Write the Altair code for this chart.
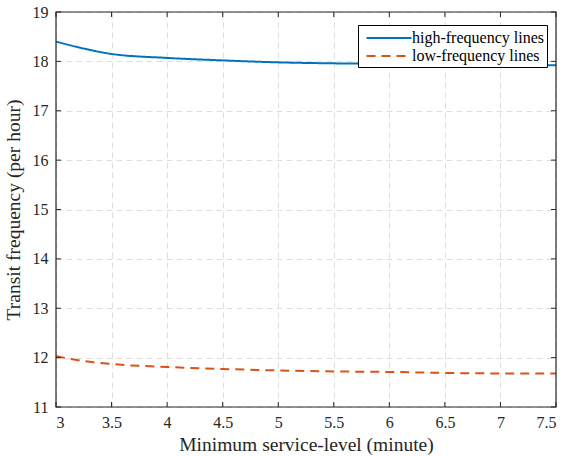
import altair as alt
import pandas as pd

# Minimum service level (minutes) and resulting frequencies (vehicles per hour)
service_level = [3, 3.25, 3.5, 4, 4.5, 5, 5.5, 6, 6.5, 7, 7.5]
high_freq = [18.40, 18.26, 18.15, 18.07, 18.02, 17.98, 17.96, 17.95, 17.94, 17.93, 17.92]
low_freq = [12.03, 11.93, 11.87, 11.81, 11.77, 11.74, 11.72, 11.71, 11.69, 11.68, 11.68]
series_names = ["high-frequency lines", "low-frequency lines"]
x_ticks = [3, 3.5, 4, 4.5, 5, 5.5, 6, 6.5, 7, 7.5]
y_ticks = [11, 12, 13, 14, 15, 16, 17, 18, 19]

W, H = 500, 395
FONT = "Liberation Serif"
INK = "#262626"

df = pd.concat([
    pd.DataFrame({"x": service_level, "y": high_freq, "series": series_names[0]}),
    pd.DataFrame({"x": service_level, "y": low_freq, "series": series_names[1]}),
])

xs = alt.Scale(domain=[3, 7.5], nice=False, zero=False)
ys = alt.Scale(domain=[11, 19], nice=False, zero=False)

x_axis = alt.Axis(values=x_ticks, format="~g", title="Minimum service-level (minute)",
                  ticks=False, domain=False, labelPadding=7, titlePadding=5,
                  gridDash=[6, 4], gridColor="#dedede", gridWidth=1)
y_axis = alt.Axis(values=y_ticks, format="~g", title="Transit frequency (per hour)",
                  ticks=False, domain=False, labelPadding=8, titlePadding=9,
                  gridDash=[6, 4], gridColor="#dedede", gridWidth=1)

lines = alt.Chart(df).mark_line(strokeWidth=2, interpolate="monotone").encode(
    x=alt.X("x:Q", scale=xs, axis=x_axis),
    y=alt.Y("y:Q", scale=ys, axis=y_axis),
    color=alt.Color("series:N", title=None,
                    scale=alt.Scale(domain=series_names, range=["#0072BD", "#D95319"])),
    strokeDash=alt.StrokeDash("series:N", title=None,
                              scale=alt.Scale(domain=series_names, range=[[1, 0], [9, 6]])),
)

xt = pd.DataFrame({"x": x_ticks})
yt = pd.DataFrame({"y": y_ticks})
tick_style = dict(color=INK, strokeWidth=1)
bottom = alt.Chart(xt).mark_rule(**tick_style).encode(
    x=alt.X("x:Q", scale=xs), y=alt.value(H), y2=alt.value(H - 5))
top = alt.Chart(xt).mark_rule(**tick_style).encode(
    x=alt.X("x:Q", scale=xs), y=alt.value(0), y2=alt.value(5))
left = alt.Chart(yt).mark_rule(**tick_style).encode(
    y=alt.Y("y:Q", scale=ys), x=alt.value(0), x2=alt.value(5))
right = alt.Chart(yt).mark_rule(**tick_style).encode(
    y=alt.Y("y:Q", scale=ys), x=alt.value(W), x2=alt.value(W - 5))

# Plot frame drawn above the grid so the border stays solid
frame = alt.Chart(pd.DataFrame({"k": [0]})).mark_rect(
    fill=None, stroke=INK, strokeWidth=1.2
).encode(x=alt.value(0), x2=alt.value(W), y=alt.value(0), y2=alt.value(H))

chart = alt.layer(lines, bottom, top, left, right, frame).properties(
    width=W, height=H,
    autosize=alt.AutoSizeParams(type="none"),
    padding={"left": 56, "top": 12, "right": 10, "bottom": 49},
).configure_view(
    stroke=None
).configure_axis(
    labelFont=FONT, labelFontSize=16, labelColor=INK,
    titleFont=FONT, titleFontSize=19.5, titleColor=INK, titleFontWeight="normal",
).configure_legend(
    orient="none", legendX=302, legendY=13,
    strokeColor="black", fillColor="white", padding=3,
    labelFont=FONT, labelFontSize=16, labelColor="black",
    symbolType="M-2.5,0H2.5", symbolSize=324, symbolStrokeWidth=2,
    symbolOffset=18, labelOffset=13, rowPadding=0,
)

chart.save("out.html", embed_options={"renderer": "svg", "actions": False})
